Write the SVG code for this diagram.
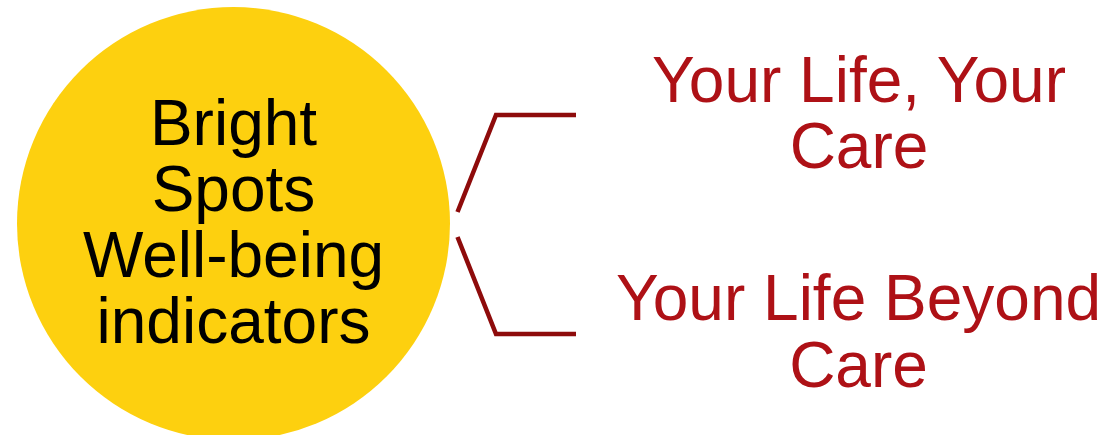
<svg xmlns="http://www.w3.org/2000/svg" width="1109" height="435" viewBox="0 0 1109 435">
<style>
.t{font-family:"Liberation Sans",Arial,sans-serif;font-size:64px;text-anchor:middle}
.c{fill:#000}
.r{fill:#AE1116}
.conn{fill:none;stroke:#8E0B0B;stroke-width:4.5}
</style>
<rect width="1109" height="435" fill="#fff"/>
<g id="center">
<circle cx="233.5" cy="223.5" r="216.5" fill="#FDD00F"/>
<text class="t c" x="233.5" y="145">Bright</text>
<text class="t c" x="233.5" y="211">Spots</text>
<text class="t c" x="233.5" y="277">Well-being</text>
<text class="t c" x="233.5" y="343">indicators</text>
</g>
<g id="connectors">
<polyline class="conn" points="457.5,212 496,115 576,115"/>
<polyline class="conn" points="457.5,237 496,334 576,334"/>
</g>
<g id="n1">
<text class="t r" x="859" y="102">Your Life, Your</text>
<text class="t r" x="859" y="168">Care</text>
</g>
<g id="n2">
<text class="t r" x="858.5" y="320">Your Life Beyond</text>
<text class="t r" x="858.5" y="386.5">Care</text>
</g>
</svg>
